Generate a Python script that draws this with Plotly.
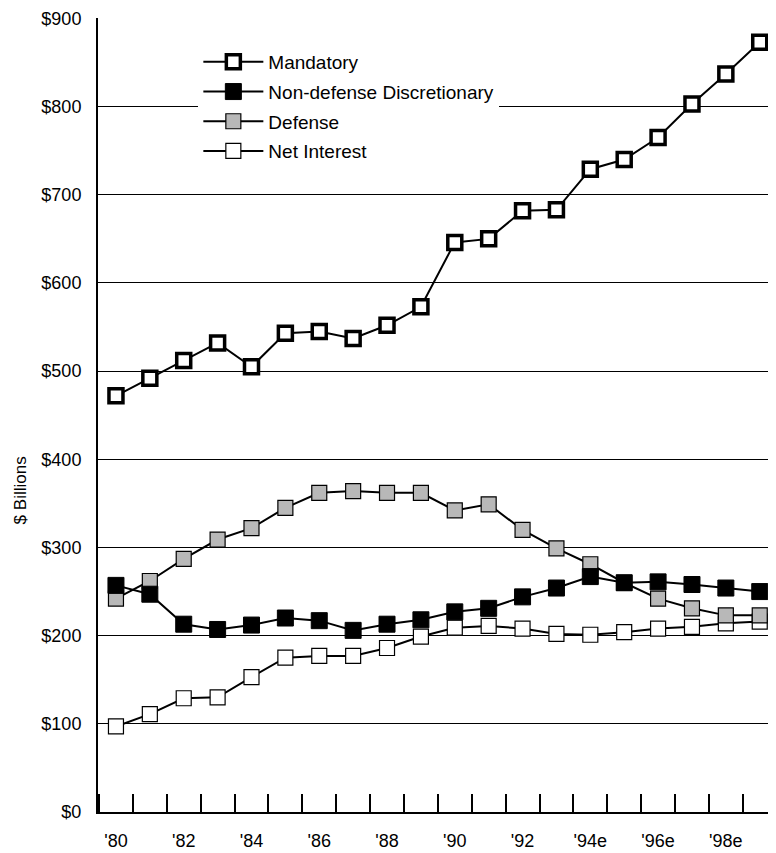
import plotly.graph_objects as go

years = list(range(1980, 2000))
mandatory = [472, 492, 512, 532, 505, 543, 545, 537, 552, 573, 646, 650, 682, 683, 729, 740, 765, 803, 837, 873]
nondefense = [257, 247, 213, 207, 212, 220, 217, 206, 213, 218, 227, 231, 244, 254, 267, 260, 261, 258, 254, 250]
defense = [242, 262, 287, 309, 322, 345, 362, 364, 362, 362, 342, 349, 320, 299, 281, 260, 242, 231, 223, 223]
net_interest = [97, 111, 129, 130, 153, 175, 177, 177, 186, 199, 209, 211, 208, 202, 201, 204, 208, 210, 214, 216]

x_tick_vals = [1980, 1982, 1984, 1986, 1988, 1990, 1992, 1994, 1996, 1998]
x_tick_text = ["'80", "'82", "'84", "'86", "'88", "'90", "'92", "'94e", "'96e", "'98e"]
y_tick_vals = [0, 100, 200, 300, 400, 500, 600, 700, 800, 900]
y_tick_text = ["$0", "$100", "$200", "$300", "$400", "$500", "$600", "$700", "$800", "$900"]

FONT = "Liberation Sans, Arial, Helvetica, sans-serif"

fig = go.Figure()

fig.add_trace(go.Scatter(
    x=years, y=net_interest, name="Net Interest", mode="lines+markers",
    legendgroup="d", legendrank=4,
    line=dict(color="black", width=2),
    marker=dict(symbol="square", size=15, color="white", line=dict(color="black", width=1.2)),
))
fig.add_trace(go.Scatter(
    x=years, y=defense, name="Defense", mode="lines+markers",
    legendgroup="c", legendrank=3,
    line=dict(color="black", width=2),
    marker=dict(symbol="square", size=15, color="#b8b8b8", line=dict(color="black", width=1.2)),
))
fig.add_trace(go.Scatter(
    x=years, y=nondefense, name="Non-defense Discretionary", mode="lines+markers",
    legendgroup="b", legendrank=2,
    line=dict(color="black", width=2),
    marker=dict(symbol="square", size=16, color="black", line=dict(color="black", width=1)),
))
fig.add_trace(go.Scatter(
    x=years, y=mandatory, name="Mandatory", mode="lines+markers",
    legendgroup="a", legendrank=1,
    line=dict(color="black", width=2),
    marker=dict(symbol="square", size=14, color="white", line=dict(color="black", width=3.5)),
))

fig.update_layout(
    width=768, height=845,
    margin=dict(l=90, r=0, t=10, b=41, autoexpand=False),
    paper_bgcolor="white", plot_bgcolor="white",
    font=dict(family=FONT, size=18, color="black"),
    showlegend=True,
    legend=dict(
        x=0.148, y=0.9685, xanchor="left", yanchor="top",
        bgcolor="white", borderwidth=0,
        font=dict(family=FONT, size=19, color="black"),
        traceorder="grouped", itemwidth=60, tracegroupgap=2,
    ),
    xaxis=dict(
        range=[1979.47, 1999.48], automargin=False,
        tickmode="array", tickvals=x_tick_vals, ticktext=x_tick_text,
        ticks="", showgrid=False, zeroline=False,
        showline=True, linecolor="black", linewidth=2,
        ticklabelstandoff=11,
        tickfont=dict(family=FONT, size=18),
        minor=dict(tick0=1980.5, dtick=1, ticks="inside", ticklen=18, tickwidth=2,
                   tickcolor="black", showgrid=False),
    ),
    yaxis=dict(
        range=[0, 900.5], automargin=False,
        tickmode="array", tickvals=y_tick_vals, ticktext=y_tick_text,
        ticks="", showgrid=True, gridcolor="black", gridwidth=1,
        zeroline=False, showline=True, linecolor="black", linewidth=2,
        ticklabelstandoff=11,
        tickfont=dict(family=FONT, size=18),
    ),
    annotations=[dict(
        text="$ Billions", xref="paper", yref="paper", x=-0.1315, y=0.4055,
        xanchor="left", yanchor="middle", textangle=-90, showarrow=False,
        font=dict(family=FONT, size=17, color="black"),
    )],
)

fig.write_html("out.html")
